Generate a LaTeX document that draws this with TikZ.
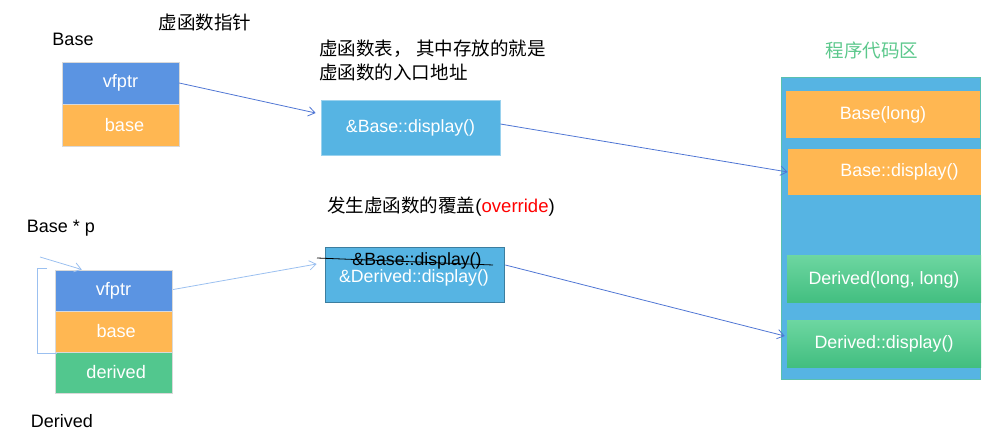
\documentclass[tikz,border=0pt]{standalone}
\usepackage{fontspec}
\setmainfont{Liberation Sans}
\newfontfamily\cjk{Noto Sans CJK SC}
\usetikzlibrary{arrows.meta,calc}
\definecolor{vfblue}{RGB}{91,148,226}
\definecolor{orng}{RGB}{255,183,82}
\definecolor{grn}{RGB}{82,199,142}
\definecolor{sky}{RGB}{86,180,227}
\definecolor{gtop}{RGB}{108,214,160}
\definecolor{gbot}{RGB}{66,190,128}
\definecolor{arrdark}{RGB}{80,118,212}
\definecolor{arrlight}{RGB}{155,192,240}
\definecolor{codegreen}{RGB}{92,200,140}
\tikzset{
  cell/.style={minimum width={117*0.75pt}, minimum height={41.5*0.75pt}, inner sep=0pt, text=white, font=\fontsize{13.6}{15}\selectfont, draw=white!85!black, line width=0.3pt},
  tbl/.style={fill=sky, minimum width={179*0.75pt}, minimum height={55*0.75pt}, inner sep=0pt, text=white, font=\fontsize{13.3}{15}\selectfont, draw=sky!60!white, line width=0.5pt},
  codebox/.style={minimum width={194*0.75pt}, minimum height={47*0.75pt}, inner sep=0pt, text=white, font=\fontsize{13.4}{15}\selectfont},
  lbl/.style={font=\fontsize{13.5}{15}\selectfont, text=black, inner sep=0pt},
  cjklbl/.style={font=\cjk\fontsize{13.9}{18}\selectfont, text=black, inner sep=0pt},
  darr/.style={-{Straight Barb[length=5pt,width=7pt]}, draw=arrdark, line width=0.6pt},
  larr/.style={-{Straight Barb[length=5pt,width=7pt]}, draw=arrlight, line width=0.6pt},
}
\begin{document}
\begin{tikzpicture}[x=0.75pt,y=-0.75pt]
\useasboundingbox (0,0) rectangle (996,438);
% labels
\node[lbl] (lbase) at (73,39) {Base};
\node[cjklbl] (lvptr) at (205,22) {虚函数指针};
\node[cjklbl, anchor=west, align=left] (lvt) at (319,60) {虚函数表， 其中存放的就是\\虚函数的入口地址};
\node[cjklbl, text=codegreen] (lcode) at (872,50) {程序代码区};
\node[cjklbl] (lover) at (441,207) {发生虚函数的覆盖{\fontspec{Liberation Sans}(\textcolor{red}{override})}};
\node[lbl] (lp) at (61,228) {Base * p};
\node[lbl] (lder) at (62,421) {Derived};

% Base object
\node[cell, fill=vfblue] (bvf) at (120.5,83) {vfptr};
\node[cell, fill=orng] (bbase) at (120.5,125) {\hspace*{6pt}base};

% vtable 1
\node[tbl] (vt1) at (410.5,127.5) {\&Base::display()};

% code area
\node[fill=sky, draw=codegreen!60!sky, line width=0.5pt, minimum width={199*0.75pt}, minimum height={302*0.75pt}, inner sep=0pt] (code) at (880.5,228) {};
\node[codebox, fill=orng] (c1) at (883,114.5) {Base(long)};
\node[codebox, fill=orng, minimum width={193*0.75pt}, minimum height={46*0.75pt}] (c2) at (884.5,172) {};
\node[codebox] (c2t) at (899.5,172) {Base::display()};
\node[codebox, top color=gtop, bottom color=gbot] (c3) at (884,279.5) {Derived(long, long)};
\node[codebox, top color=gtop, bottom color=gbot, minimum height={46*0.75pt}] (c4) at (884,344) {Derived::display()};

% Derived object
\node[cell, fill=vfblue] (dvf) at (113.5,290.5) {vfptr};
\node[cell, fill=orng] (dbase) at (113.5,331.5) {\hspace*{4pt}base};
\node[cell, fill=grn] (dder) at (113.5,372.5) {\hspace*{4pt}derived};

% vtable 2
\node[tbl, draw=sky!70!black] (vt2) at (414.5,274.5) {};
\node[lbl, text=black, font=\fontsize{13.3}{15}\selectfont] (vt2a) at (417,261) {\&Base::display()};
\node[lbl, text=white, font=\fontsize{13.3}{15}\selectfont] (vt2b) at (414,277.5) {\&Derived::display()};
\draw[black, line width=0.6pt] (317,258) -- (493,265);

% bracket
\draw[arrlight, line width=0.6pt] (47,268) -- (37,268) -- (37,353) -- (57,353);

% arrows
\coordinate (pstart) at (40,257);
\draw[darr] (bvf.east) -- ($(vt1.west)+(-5,-14.5)$);
\draw[darr] ($(vt1.east)+(0,-3.5)$) -- (c2.west);
\draw[larr] (pstart) -- ($(dvf.north west)+(27,0)$);
\draw[larr] ($(dvf.east)+(1,-1)$) -- ($(vt2.west)+(-8,-10.5)$);
\draw[darr] ($(vt2.east)+(1,-9.5)$) -- ($(c4.west)+(-2,-8)$);
\end{tikzpicture}
\end{document}
